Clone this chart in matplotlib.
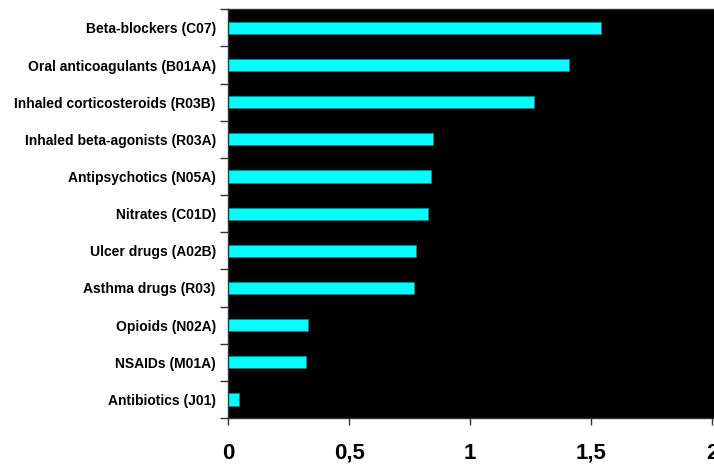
import matplotlib
matplotlib.use("Agg")
import matplotlib.pyplot as plt
import numpy as np

categories = [
    "Beta-blockers (C07)",
    "Oral anticoagulants (B01AA)",
    "Inhaled corticosteroids (R03B)",
    "Inhaled beta-agonists (R03A)",
    "Antipsychotics (N05A)",
    "Nitrates (C01D)",
    "Ulcer drugs (A02B)",
    "Asthma drugs (R03)",
    "Opioids (N02A)",
    "NSAIDs (M01A)",
    "Antibiotics (J01)",
]
values = [1.539, 1.407, 1.264, 0.846, 0.836, 0.826, 0.777, 0.767, 0.328, 0.320, 0.044]
x_ticks = [0, 0.5, 1, 1.5, 2]
x_tick_labels = ["0", "0,5", "1", "1,5", "2"]

plt.rcParams["font.family"] = ["Liberation Sans", "DejaVu Sans"]

fig = plt.figure(figsize=(7.14, 4.66), dpi=100)
ax = fig.add_axes([228.3 / 714, 1 - 418 / 466, 1 - 228.3 / 714, (418 - 9.3) / 466])
ax.set_facecolor("black")

n = len(categories)
y = np.arange(n)
ax.barh(y, values, height=0.33, color="#00ffff", edgecolor="#008b8b", linewidth=0.6)

ax.set_ylim(n - 0.5, -0.5)
ax.set_xlim(0, 2.007)

ax.set_yticks(y)
ax.set_yticklabels(categories, fontsize=10, fontweight="bold")
ax.tick_params(axis="y", which="major", length=0, pad=9)
ax.set_yticks(np.arange(-0.5, n, 1.0), minor=True)
ax.tick_params(axis="y", which="minor", length=6, width=1, color="#333333", direction="out")

ax.set_xticks(x_ticks)
ax.set_xticklabels(x_tick_labels, fontsize=16, fontweight="bold")
ax.tick_params(axis="x", length=5, width=1, color="#333333", pad=13)

for side in ["top", "bottom", "left"]:
    ax.spines[side].set_color("#333333")
    ax.spines[side].set_linewidth(1)
ax.spines["right"].set_visible(False)

fig.savefig("out.png", dpi=100)
